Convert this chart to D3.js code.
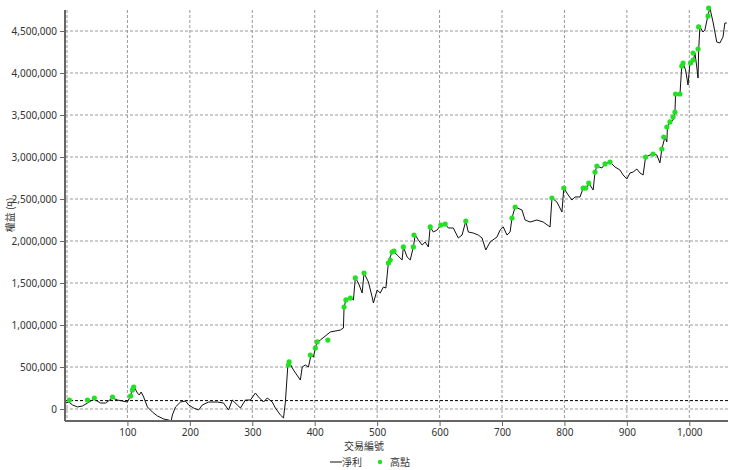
<!DOCTYPE html>
<html><head><meta charset="utf-8">
<script src="https://cdn.jsdelivr.net/npm/d3@7"></script>
<style>body{margin:0;background:#fff;font-family:"Segoe UI","Noto Sans CJK TC","Noto Sans",sans-serif}</style>
</head><body><svg id="c" width="738" height="470"></svg>
<script>
// net profit curve: trade number, equity (thousands)
const lineTrades=[1,6,12,20,28,36,46,57,65,76,84,92,100,105,108,111,116,119,122,126,132,140,148,158,166,170,172,177,185,193,198,206,214,220,230,244,254,262,268,276,281,289,297,305,310,318,324,332,337,345,350,353,357,359,366,377,380,385,390,394,398,401,404,409,425,441,446,447,450,457,462,465,470,476,479,486,492,494,500,505,510,514,518,519,524,526,532,540,542,548,553,558,561,566,572,577,582,585,590,596,602,609,614,622,630,636,642,646,654,662,668,674,681,692,697,702,708,713,716,721,732,737,745,756,766,777,780,788,796,799,806,812,817,825,830,836,839,846,849,852,860,865,873,881,889,894,900,905,910,916,921,926,930,937,942,948,953,956,961,964,965,969,974,977,978,985,988,990,994,998,1001,1006,1009,1012,1014,1015,1017,1022,1025,1030,1033,1038,1044,1049,1054,1057,1060];
const lineValues=[71,83,48,24,36,71,119,71,71,131,107,95,83,155,250,262,190,167,202,143,24,-36,-83,-119,-131,-143,-71,24,83,95,48,12,-12,48,83,83,71,-12,107,48,12,107,107,190,143,83,131,83,12,-71,-107,83,524,560,464,345,500,524,500,643,619,726,798,821,917,940,964,1214,1298,1321,1298,1560,1500,1381,1619,1512,1333,1262,1417,1381,1452,1440,1738,1774,1869,1881,1833,1774,1929,1810,1774,1929,2071,2012,1952,1988,1929,2167,2107,2131,2190,2202,2155,2155,2036,2071,2238,2107,2095,2071,2036,1893,1988,2048,2131,2167,2071,2107,2274,2405,2369,2250,2226,2250,2226,2167,2512,2464,2345,2631,2548,2488,2524,2524,2631,2631,2690,2607,2821,2893,2869,2917,2940,2881,2845,2786,2738,2810,2821,2857,2810,2786,3000,3024,3036,3024,2929,3095,3238,3179,3357,3417,3440,3524,3738,3738,4095,4119,4036,3857,4119,4131,4238,4071,3940,4274,4548,4488,4512,4690,4774,4607,4369,4357,4429,4595,4595];
// high points
const highTrades=[7,36,47,76,105,108,110,358,359,393,401,404,421,447,450,457,465,479,518,521,524,527,542,558,559,585,602,609,642,716,721,780,799,830,834,839,849,852,865,873,930,942,956,959,964,969,974,977,978,985,988,990,1002,1006,1006,1014,1015,1030,1031];
const highValues=[107,107,131,143,155,226,262,524,560,643,726,798,821,1214,1298,1321,1560,1619,1738,1774,1869,1881,1929,1929,2071,2167,2190,2202,2238,2274,2405,2512,2631,2631,2631,2690,2821,2893,2917,2940,3000,3036,3095,3238,3357,3417,3476,3536,3750,3750,4083,4119,4119,4155,4238,4286,4548,4679,4774];
const xTicks=[100,200,300,400,500,600,700,800,900,1000];
const yTicks=[0,500000,1000000,1500000,2000000,2500000,3000000,3500000,4000000,4500000];
const refLevel=100000;

const svg=d3.select("#c");
const L=65,R=728,T=10,B=421;
const x=d3.scaleLinear().domain([0,1062]).range([L,R]);
const y=d3.scaleLinear().domain([-142857,4750000]).range([B,T]);
const g=svg.append("g");
// grid
g.selectAll(".gy").data(yTicks).enter().append("line").attr("x1",L).attr("x2",R).attr("y1",d=>y(d)).attr("y2",d=>y(d)).attr("stroke","#999").attr("stroke-dasharray","3,2");
g.selectAll(".gx").data([0].concat(xTicks)).enter().append("line").attr("y1",T).attr("y2",B).attr("x1",d=>x(d)+(d===0?2:0)).attr("x2",d=>x(d)+(d===0?2:0)).attr("stroke","#999").attr("stroke-dasharray","3,2");
g.append("line").attr("x1",L).attr("x2",R).attr("y1",y(refLevel)).attr("y2",y(refLevel)).attr("stroke","#000").attr("stroke-dasharray","3,2");
// line
const pts=lineTrades.map((t,i)=>[t,lineValues[i]*1000]);
g.append("path").datum(pts).attr("fill","none").attr("stroke","#111").attr("stroke-width",1)
 .attr("d",d3.line().x(d=>x(d[0])).y(d=>y(d[1])));
g.selectAll(".h").data(highTrades.map((t,i)=>[t,highValues[i]*1000])).enter().append("circle")
 .attr("cx",d=>x(d[0])).attr("cy",d=>y(d[1])).attr("r",2.6).attr("fill","#22e022");
// axes
const ax=svg.append("g").attr("transform",`translate(0,${B})`).call(d3.axisBottom(x).tickValues(xTicks).tickFormat(d3.format(",")).tickSize(5));
const ay=svg.append("g").attr("transform",`translate(${L},0)`).call(d3.axisLeft(y).tickValues(yTicks).tickFormat(d3.format(",")).tickSize(5));
[ax,ay].forEach(a=>{a.select(".domain").attr("stroke","#666").attr("stroke-width",2);
 a.selectAll(".tick line").attr("stroke","#666");
 a.selectAll("text").attr("fill","#333").style("font-size","10px").style("font-family","'Segoe UI','Noto Sans',sans-serif");});
ax.select(".domain").attr("d",`M${L},0H${R}`);
ay.select(".domain").attr("d",`M0,${T}V${B}`);
svg.append("text").attr("transform","translate(14,215) rotate(-90)").attr("text-anchor","middle").attr("font-size","10px").attr("fill","#333").text("權益 (¤)");
svg.append("text").attr("x",364).attr("y",450).attr("text-anchor","middle").attr("font-size","10px").attr("fill","#333").text("交易編號");
svg.append("line").attr("x1",330).attr("x2",342).attr("y1",462).attr("y2",462).attr("stroke","#111");
svg.append("text").attr("x",342).attr("y",466).attr("font-size","10px").attr("fill","#333").text("淨利");
svg.append("circle").attr("cx",380).attr("cy",462).attr("r",2.2).attr("fill","#22e022");
svg.append("text").attr("x",390).attr("y",466).attr("font-size","10px").attr("fill","#333").text("高點");
</script></body></html>
